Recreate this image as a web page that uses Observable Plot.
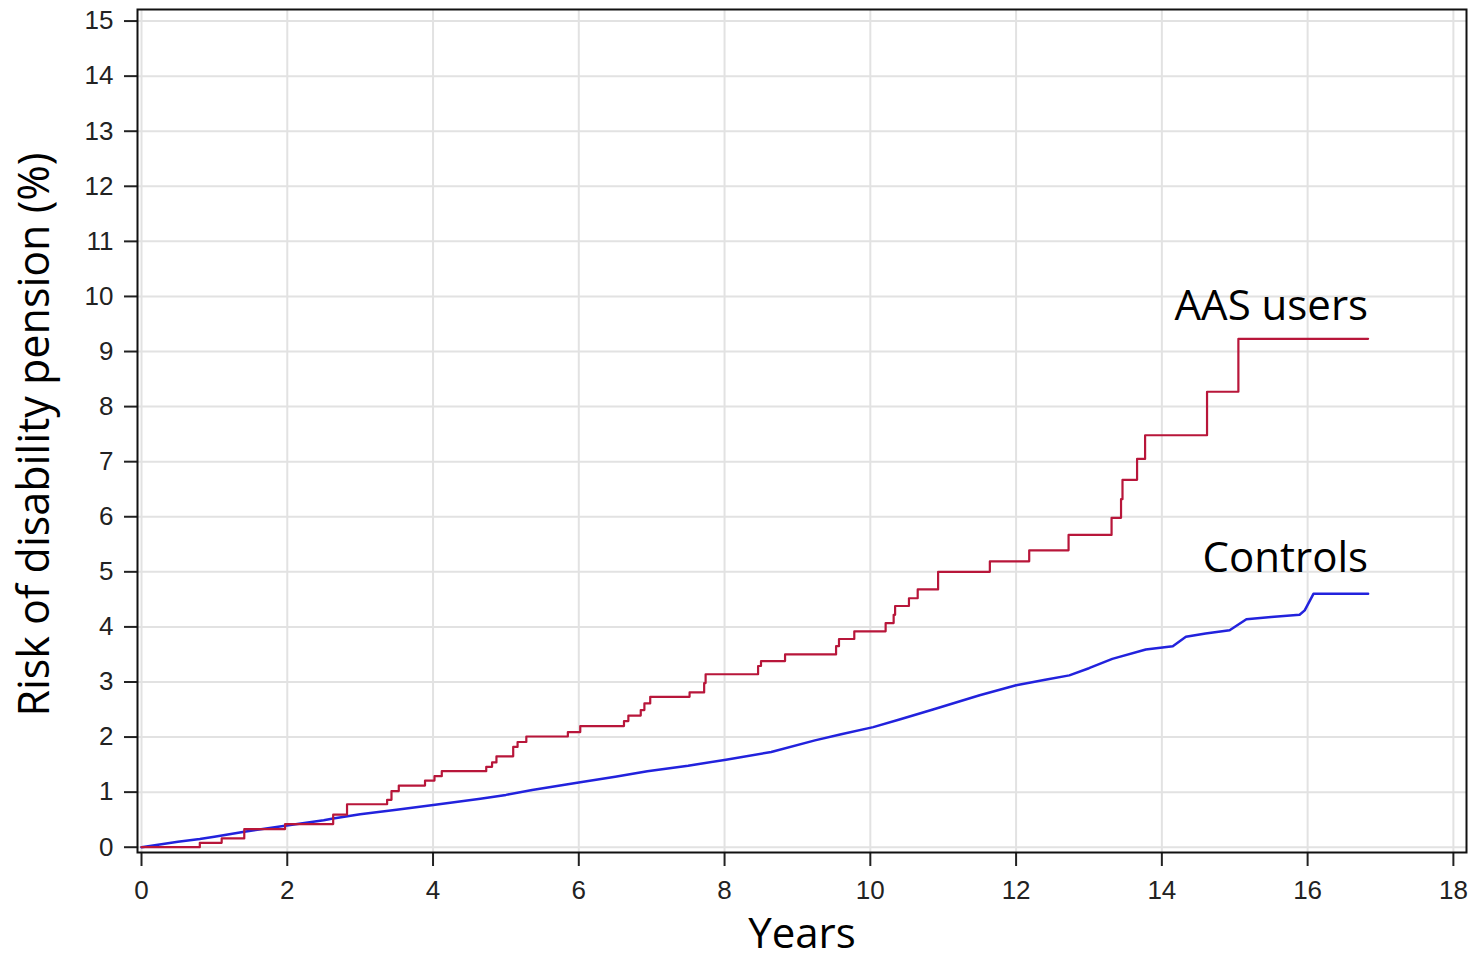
<!DOCTYPE html>
<html>
<head>
<meta charset="utf-8">
<script src="https://cdn.jsdelivr.net/npm/d3@7"></script>
<script src="https://cdn.jsdelivr.net/npm/@observablehq/plot@0.6"></script>
<style>
  html, body { margin: 0; padding: 0; background: #ffffff; }
  #chart svg { display: block; }
</style>
</head>
<body>
<div id="chart"></div>
<script>
// AAS users: Kaplan-Meier style step function (time in years, cumulative risk %)
const aasYears = [0, 0.80, 1.10, 1.41, 1.97, 2.63, 2.82, 3.37, 3.43, 3.53, 3.89, 4.02, 4.12, 4.73, 4.81, 4.87, 5.10, 5.16, 5.28, 5.85, 6.02, 6.62, 6.68, 6.85, 6.90, 6.98, 7.52, 7.72, 7.74, 8.46, 8.50, 8.83, 9.53, 9.57, 9.78, 10.21, 10.32, 10.34, 10.53, 10.65, 10.93, 11.64, 12.18, 12.72, 13.31, 13.44, 13.46, 13.66, 13.77, 14.62, 15.05, 16.83];
const aasRisk  = [0, 0.08, 0.16, 0.33, 0.42, 0.59, 0.78, 0.86, 1.02, 1.12, 1.21, 1.29, 1.38, 1.46, 1.54, 1.65, 1.82, 1.91, 2.01, 2.09, 2.20, 2.29, 2.39, 2.49, 2.61, 2.73, 2.81, 2.98, 3.14, 3.29, 3.38, 3.50, 3.65, 3.78, 3.92, 4.07, 4.22, 4.38, 4.52, 4.68, 5.00, 5.19, 5.39, 5.67, 5.98, 6.32, 6.67, 7.05, 7.48, 8.27, 9.23, 9.23];

// Controls
const ctlYears = [0, 0.25, 0.5, 0.8, 1.0, 1.41, 1.5, 1.97, 2.5, 2.63, 3.0, 3.5, 4.03, 4.65, 5.0, 5.36, 6.02, 6.5, 6.94, 7.5, 8.02, 8.64, 9.24, 9.6, 10.04, 10.40, 10.86, 11.5, 12.0, 12.4, 12.73, 13.0, 13.32, 13.78, 14.15, 14.33, 14.6, 14.93, 15.16, 15.5, 15.89, 15.96, 16.08, 16.83];
const ctlRisk  = [0, 0.05, 0.10, 0.15, 0.19, 0.28, 0.30, 0.39, 0.49, 0.52, 0.60, 0.68, 0.77, 0.88, 0.95, 1.04, 1.18, 1.28, 1.38, 1.48, 1.59, 1.73, 1.94, 2.05, 2.18, 2.32, 2.50, 2.76, 2.94, 3.04, 3.12, 3.25, 3.42, 3.59, 3.65, 3.82, 3.88, 3.94, 4.14, 4.18, 4.22, 4.30, 4.60, 4.60];

const xTicks = [0, 2, 4, 6, 8, 10, 12, 14, 16, 18];
const yTicks = [0, 1, 2, 3, 4, 5, 6, 7, 8, 9, 10, 11, 12, 13, 14, 15];

const seriesNames = ["AAS users", "Controls"];
const labelX = [16.83, 16.83];
const labelY = [9.81, 5.24];

const xTitle = "Years";
const yTitle = "Risk of disability pension (%)";

const aas = aasYears.map((t, i) => ({t, v: aasRisk[i]}));
const ctl = ctlYears.map((t, i) => ({t, v: ctlRisk[i]}));
const labels = seriesNames.map((name, i) => ({name, x: labelX[i], y: labelY[i]}));

const titleFont = "'Open Sans', 'Noto Sans', sans-serif";

const chart = Plot.plot({
  width: 1477,
  height: 962,
  marginLeft: 137,
  marginRight: 11,
  marginTop: 9,
  marginBottom: 110,
  style: {
    background: "#ffffff",
    fontFamily: "'Liberation Sans', Arial, sans-serif",
    fontSize: "26px",
    color: "#222222"
  },
  x: {domain: [-0.055, 18.18]},
  y: {domain: [-0.096, 15.21]},
  marks: [
    Plot.gridX(xTicks, {stroke: "#e2e2e2", strokeOpacity: 1, strokeWidth: 2}),
    Plot.gridY(yTicks, {stroke: "#e2e2e2", strokeOpacity: 1, strokeWidth: 2}),
    Plot.axisX(xTicks, {tickSize: 14, tickPadding: 14, strokeWidth: 2, label: null, fontSize: 26, stroke: "#222", tickFormat: d => String(d)}),
    Plot.axisY(yTicks, {tickSize: 13, tickPadding: 11, strokeWidth: 2, label: null, fontSize: 26, stroke: "#222", tickFormat: d => String(d)}),
    Plot.line(ctl, {x: "t", y: "v", stroke: "#2222dd", strokeWidth: 2.5}),
    Plot.line(aas, {x: "t", y: "v", curve: "step-after", stroke: "#b8163a", strokeWidth: 2.2}),
    Plot.frame({stroke: "#111", strokeWidth: 2}),
    Plot.text(labels, {x: "x", y: "y", text: "name", textAnchor: "end", lineAnchor: "middle", fontSize: 42, fontFamily: titleFont, fill: "#000"}),
    Plot.text([xTitle], {frameAnchor: "bottom", dy: 66, lineAnchor: "top", textAnchor: "middle", fontSize: 42, fontFamily: titleFont, fill: "#000"}),
    Plot.text([yTitle], {frameAnchor: "left", dx: -102, dy: 3.5, rotate: -90, lineAnchor: "middle", textAnchor: "middle", fontSize: 43, fontFamily: titleFont, fill: "#000"})
  ]
});

document.getElementById("chart").appendChild(chart);
</script>
</body>
</html>
